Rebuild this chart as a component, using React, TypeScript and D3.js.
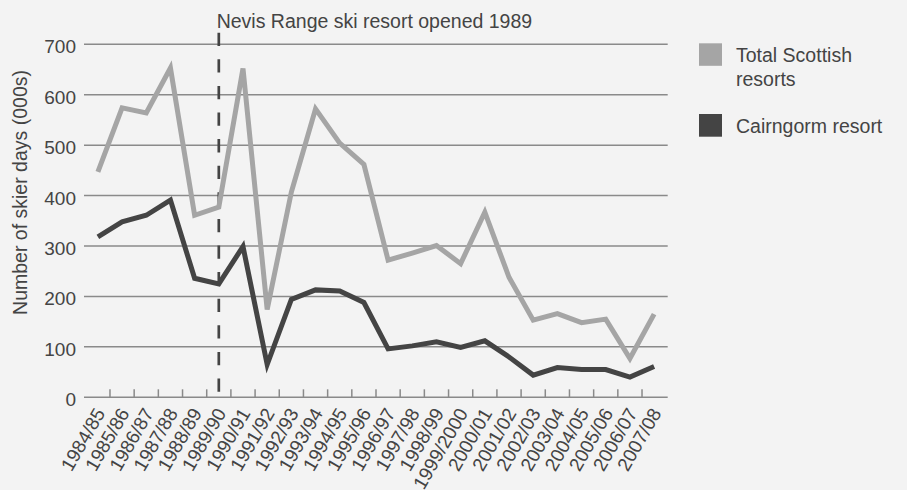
import React from "react";
import * as d3 from "d3";

const seasons = [
  "1984/85", "1985/86", "1986/87", "1987/88", "1988/89", "1989/90",
  "1990/91", "1991/92", "1992/93", "1993/94", "1994/95", "1995/96",
  "1996/97", "1997/98", "1998/99", "1999/2000", "2000/01", "2001/02",
  "2002/03", "2003/04", "2004/05", "2005/06", "2006/07", "2007/08",
];
const totalScottish = [
  447, 574, 564, 653, 361, 377, 652, 174, 407, 572, 504, 462,
  272, 286, 301, 265, 367, 238, 153, 166, 148, 155, 77, 165,
];
const cairngorm = [
  318, 348, 361, 391, 236, 225, 299, 65, 194, 213, 211, 188,
  96, 102, 110, 99, 112, 80, 44, 59, 55, 55, 40, 61,
];
const yTicks = [0, 100, 200, 300, 400, 500, 600, 700];
const openedSeason = "1989/90";
const annotation = "Nevis Range ski resort opened 1989";
const yTitle = "Number of skier days (000s)";

const W = 907;
const H = 490;
const FONT = "'Liberation Sans', Arial, sans-serif";
const TEXT = "#444";
const LIGHT = "#a5a5a5";
const DARK = "#444444";
const GRID = "#8a8a8a";

export default function App() {
  const x = d3.scaleBand<string>().domain(seasons).range([85.8, 666.2]).padding(0);
  const y = d3.scaleLinear().domain([0, 700]).range([397.3, 44.3]);
  const cx = (s: string) => (x(s) as number) + x.bandwidth() / 2;

  const line = d3
    .line<number>()
    .x((_, i) => cx(seasons[i]))
    .y((v) => y(v));

  const gridX0 = 84;
  const gridX1 = 667.7;
  const boundaries = seasons.slice(1).map((s) => x(s) as number);
  const dashX = cx(openedSeason);

  return (
    <svg
      width={W}
      height={H}
      style={{ position: "absolute", left: 0, top: 0 }}
      fontFamily={FONT}
    >
      <rect x={0} y={0} width={W} height={H} fill="#f3f3f3" />

      {yTicks.map((t) => (
        <g key={t}>
          <line x1={gridX0} x2={gridX1} y1={y(t)} y2={y(t)} stroke={GRID} strokeWidth={1.5} />
          <text x={76} y={y(t) + 9} textAnchor="end" fontSize={19} fill={TEXT}>
            {t}
          </text>
        </g>
      ))}

      {boundaries.map((bx, i) => (
        <line key={i} x1={bx} x2={bx} y1={y(0) - 8} y2={y(0)} stroke={GRID} strokeWidth={1.5} />
      ))}

      {seasons.map((s) => (
        <text
          key={s}
          transform={`translate(${cx(s) + 8},${413}) rotate(-60)`}
          textAnchor="end"
          fontSize={19}
          fill={TEXT}
        >
          {s}
        </text>
      ))}

      <text
        transform={`translate(26.5,192.5) rotate(-90)`}
        textAnchor="middle"
        fontSize={19.5}
        fill={TEXT}
      >
        {yTitle}
      </text>

      <line
        x1={dashX}
        x2={dashX}
        y1={32.7}
        y2={393}
        stroke={DARK}
        strokeWidth={2.7}
        strokeDasharray="13.3,13.3"
      />
      <text x={216.7} y={28.3} fontSize={19.5} fill={TEXT}>
        {annotation}
      </text>

      <path d={line(totalScottish) || ""} fill="none" stroke={LIGHT} strokeWidth={5} strokeLinejoin="miter" />
      <path d={line(cairngorm) || ""} fill="none" stroke={DARK} strokeWidth={5} strokeLinejoin="miter" />

      <rect x={699} y={43.3} width={23} height={22.5} fill={LIGHT} />
      <text x={736} y={62.3} fontSize={19.5} fill={TEXT}>Total Scottish</text>
      <text x={736} y={86} fontSize={19.5} fill={TEXT}>resorts</text>
      <rect x={699} y={114} width={23} height={22.7} fill={DARK} />
      <text x={736} y={133.3} fontSize={19.5} fill={TEXT}>Cairngorm resort</text>
    </svg>
  );
}
